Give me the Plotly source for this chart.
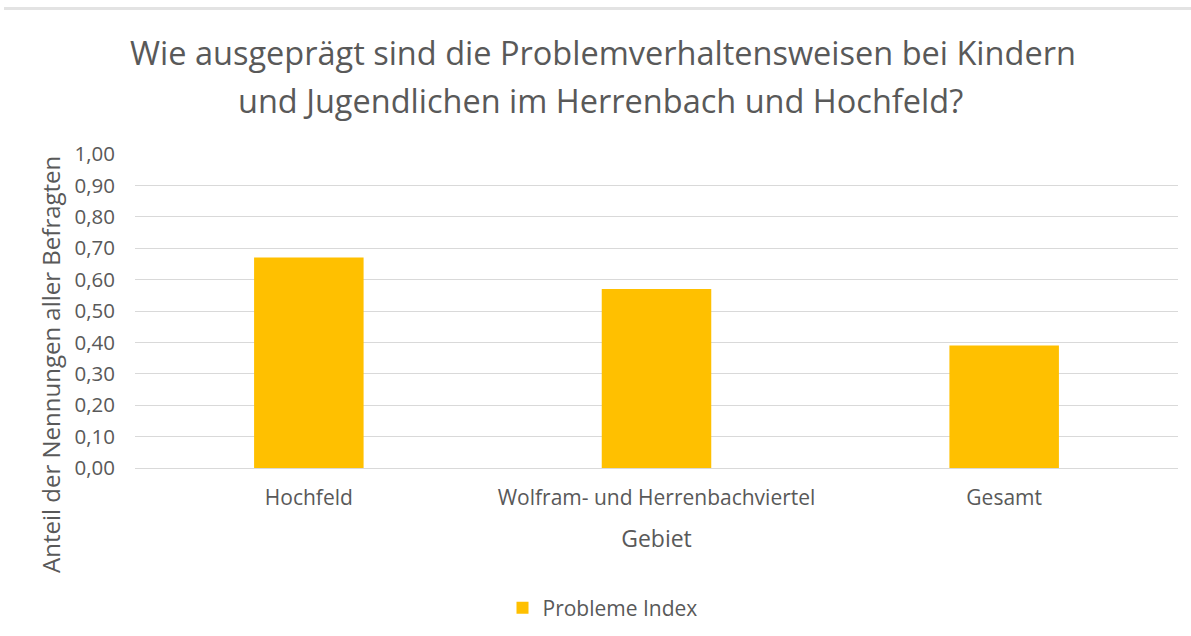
import plotly.graph_objects as go

categories = ["Hochfeld", "Wolfram- und Herrenbachviertel", "Gesamt"]
values = [0.67, 0.57, 0.39]
series_name = "Probleme Index"
tick_vals = [0.0, 0.1, 0.2, 0.3, 0.4, 0.5, 0.6, 0.7, 0.8, 0.9, 1.0]
tick_text = ["0,00", "0,10", "0,20", "0,30", "0,40", "0,50", "0,60", "0,70", "0,80", "0,90", "1,00"]
title_lines = ["Wie ausgeprägt sind die Problemverhaltensweisen bei Kindern",
               "und Jugendlichen im Herrenbach und Hochfeld?"]
x_title = "Gebiet"
y_title = "Anteil der Nennungen aller Befragten"

FONT = "'Open Sans', sans-serif"
GREY = "#595959"
W, H = 1191, 636
L, R, T, B = 135, 13, 154, 168
PW = W - L - R
PH = H - T - B


def px_x(x):
    return (x - L) / PW


def px_y(y):
    return (H - B - y) / PH


fig = go.Figure()
fig.add_trace(go.Bar(x=categories, y=values, name=series_name,
                     marker=dict(color="#FFC000", line=dict(width=0)),
                     width=0.315, showlegend=True))

fig.update_layout(
    width=W, height=H,
    paper_bgcolor="white", plot_bgcolor="white",
    margin=dict(l=L, r=R, t=T, b=B, autoexpand=False),
    font=dict(family=FONT, color=GREY, size=20),
    xaxis=dict(title=dict(text=x_title, font=dict(size=23, color=GREY), standoff=20),
               tickfont=dict(size=21, color=GREY), showgrid=False, automargin=False,
               showline=True, linecolor="#d9d9d9", linewidth=1, ticks="", ticklabelstandoff=11),
    yaxis=dict(range=[0, 1.0], tickvals=tick_vals, ticktext=tick_text, automargin=False,
               tickfont=dict(size=20.5, color=GREY), ticklabelstandoff=19,
               showgrid=True, gridcolor="#d9d9d9", gridwidth=1, zeroline=False, ticks=""),
    legend=dict(orientation="h", x=0.5 - 54 / PW, xanchor="center", y=px_y(608), yanchor="middle",
                font=dict(size=21, color=GREY), itemwidth=30),
)
for i, (line, yc) in enumerate(zip(title_lines, [52, 100])):
    fig.add_annotation(text=line, xref="paper", yref="paper", x=px_x(603 if i == 0 else 600), y=px_y(yc),
                       xanchor="center", yanchor="middle", showarrow=False,
                       font=dict(family=FONT, size=32.5, color=GREY))
fig.add_annotation(text=y_title, xref="paper", yref="paper", x=px_x(50), y=px_y(365),
                   xanchor="center", yanchor="middle", showarrow=False, textangle=-90,
                   font=dict(family=FONT, size=24, color=GREY))
fig.add_shape(type="line", xref="paper", yref="paper",
              x0=px_x(4), x1=px_x(W), y0=px_y(8.5), y1=px_y(8.5),
              line=dict(color="#e3e3e3", width=3))

fig.write_html("out.html", config={"displayModeBar": False},
               post_script="document.body.style.margin='0';document.body.style.padding='0';")
